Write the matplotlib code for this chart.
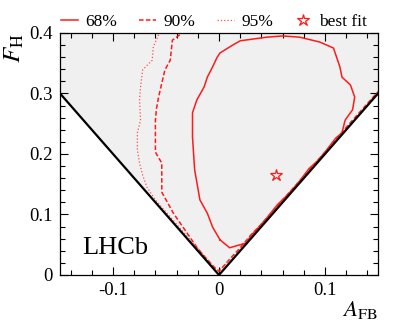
import matplotlib
matplotlib.use('Agg')
import matplotlib.pyplot as plt
from matplotlib.ticker import MultipleLocator

plt.rcParams['font.family'] = ['Liberation Serif', 'DejaVu Serif']
plt.rcParams['mathtext.fontset'] = 'stix'
plt.rcParams['axes.unicode_minus'] = False

# physical boundary F_H = 2|A_FB|
bound_x = [-0.15, 0.0, 0.15]
bound_y = [0.30, 0.0, 0.30]

# 68% contour (closed)
c68_x = [0.001, -0.006, -0.011, -0.018, -0.023, -0.025, -0.025, -0.021, -0.014,
         -0.011, -0.006, -0.002, 0.001, 0.013, 0.020, 0.045, 0.060, 0.076, 0.095,
         0.108, 0.114, 0.116, 0.124, 0.128, 0.126, 0.119, 0.116, 0.110, 0.100,
         0.092, 0.085, 0.075, 0.065, 0.055, 0.045, 0.035, 0.030, 0.026, 0.010,
         0.001]
c68_y = [0.058, 0.079, 0.102, 0.124, 0.174, 0.228, 0.268, 0.289, 0.311,
         0.327, 0.344, 0.359, 0.367, 0.380, 0.387, 0.393, 0.395, 0.393, 0.385,
         0.375, 0.344, 0.327, 0.314, 0.294, 0.273, 0.256, 0.235, 0.226, 0.203,
         0.187, 0.176, 0.153, 0.133, 0.116, 0.094, 0.074, 0.065, 0.053, 0.045,
         0.058]

# 90% contour
c90_x = [-0.037, -0.044, -0.046, -0.051, -0.054, -0.057, -0.059, -0.060, -0.060,
         -0.054, -0.054, -0.043, -0.030, -0.021, -0.015, -0.004, 0.0,
         0.010, 0.020, 0.030, 0.040, 0.060, 0.080, 0.100, 0.120, 0.150]
c90_y = [0.397, 0.388, 0.355, 0.339, 0.317, 0.294, 0.275, 0.256, 0.203,
         0.185, 0.137, 0.102, 0.069, 0.046, 0.033, 0.012, 0.006,
         0.026, 0.045, 0.066, 0.084, 0.124, 0.163, 0.203, 0.244, 0.303]

# 95% contour
c95_x = [-0.057, -0.062, -0.063, -0.072, -0.074, -0.075, -0.074, -0.077, -0.077,
         -0.075, -0.072, -0.068, -0.060, -0.045, -0.030, -0.015, -0.004, 0.0,
         0.020, 0.050, 0.080, 0.110, 0.150]
c95_y = [0.397, 0.377, 0.355, 0.339, 0.311, 0.289, 0.256, 0.235, 0.207,
         0.185, 0.165, 0.145, 0.124, 0.094, 0.064, 0.034, 0.012, 0.007,
         0.043, 0.103, 0.163, 0.223, 0.303]

best_x = [0.054]
best_y = [0.165]

fig = plt.figure(figsize=(3.99, 3.28), dpi=100)
ax = fig.add_axes([0.1504, 0.1616, 0.797, 0.738])

ax.fill_between(bound_x, bound_y, 0.4, color='#f0f0f0', lw=0, zorder=0)
ax.plot(c68_x, c68_y, color='#ff1a1a', lw=1.1, zorder=2, label='68%')
ax.plot(c90_x, c90_y, color='#ff1a1a', lw=1.1, dashes=(3, 1.5), zorder=2, label='90%')
ax.plot(c95_x, c95_y, color='#ff5050', lw=0.9, ls=':', zorder=2, label='95%')
ax.plot(best_x, best_y, ls='none', marker='*', ms=9, mfc='none', mec='#ff1a1a',
        mew=0.9, zorder=3, label='best fit')
ax.plot(bound_x, bound_y, color='black', lw=1.6, zorder=4)

ax.set_xlim(-0.15, 0.15)
ax.set_ylim(0, 0.4)
ax.set_xticks([-0.1, 0.0, 0.1])
ax.set_xticklabels(['-0.1', '0', '0.1'])
ax.set_yticks([0.0, 0.1, 0.2, 0.3, 0.4])
ax.set_yticklabels(['0', '0.1', '0.2', '0.3', '0.4'])
ax.xaxis.set_minor_locator(MultipleLocator(0.02))
ax.yaxis.set_minor_locator(MultipleLocator(0.02))
ax.tick_params(which='both', direction='in', top=True, right=True, width=0.8,
               labelsize=13.5, pad=5)
ax.tick_params(which='major', length=6)
ax.tick_params(which='minor', length=3.5)
for sp in ax.spines.values():
    sp.set_linewidth(0.9)

ax.text(-0.145, 0.935, r'$F_{\rm H}$', transform=ax.transAxes, rotation=90,
        ha='center', va='center', fontsize=18)
ax.text(1.0, -0.145, r'$A_{\rm FB}$', transform=ax.transAxes,
        ha='right', va='center', fontsize=16.5)
ax.text(-0.129, 0.045, 'LHCb', ha='left', va='center', fontsize=19)

ax.legend(ncol=4, loc='lower center', bbox_to_anchor=(0.485, 1.0), frameon=False,
          fontsize=12.5, handlelength=0.95, handletextpad=0.45, columnspacing=1.25,
          borderaxespad=0.0, borderpad=0.15)

fig.savefig('out.png', dpi=100)
